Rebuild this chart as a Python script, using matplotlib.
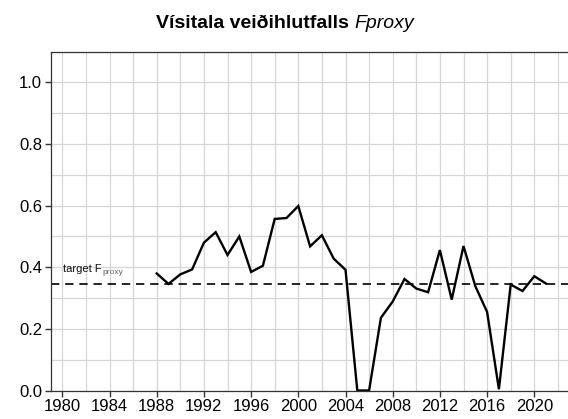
import matplotlib
matplotlib.use("Agg")
import matplotlib.pyplot as plt
from matplotlib.ticker import MultipleLocator
from matplotlib.transforms import offset_copy

plt.rcParams['font.family'] = ['Liberation Sans', 'DejaVu Sans']

years = list(range(1988, 2022))
fproxy = [0.380, 0.346, 0.377, 0.393, 0.480, 0.514, 0.440, 0.500, 0.385, 0.405,
          0.557, 0.560, 0.599, 0.468, 0.504, 0.428, 0.392, 0.0, 0.0, 0.236,
          0.289, 0.362, 0.331, 0.319, 0.456, 0.295, 0.469, 0.339, 0.255, 0.004,
          0.344, 0.323, 0.371, 0.347]
target = 0.345
x_ticks = list(range(1980, 2021, 4))
y_ticks = [0.0, 0.2, 0.4, 0.6, 0.8, 1.0]

W, H = 568, 419
fig = plt.figure(figsize=(W / 100, H / 100), dpi=100)
ax = fig.add_axes([50.5 / W, (H - 390.5) / H, 531 / W, (390.5 - 51.7) / H])

ax.set_xlim(1979, 2024)
ax.set_ylim(0, 1.1)
ax.set_xticks(x_ticks)
ax.set_yticks(y_ticks)
ax.set_yticklabels([f"{v:.1f}" for v in y_ticks])
ax.xaxis.set_minor_locator(MultipleLocator(2))
ax.yaxis.set_minor_locator(MultipleLocator(0.1))
ax.grid(True, which='both', color='#d6d6d6', linewidth=0.9)
ax.set_axisbelow(True)

for side in ['left', 'bottom', 'top']:
    ax.spines[side].set_color('#333333')
    ax.spines[side].set_linewidth(0.9)
ax.spines['right'].set_visible(False)

ax.tick_params(which='major', length=4, width=1.0, color='#333333',
               labelsize=12, labelcolor='black', pad=2)
ax.tick_params(which='minor', length=0)

ax.plot(years, fproxy, color='black', linewidth=1.7, solid_joinstyle='miter')
ax.axhline(target, color='black', linewidth=1.2, linestyle=(0, (5, 3.5)))

renderer = fig.canvas.get_renderer()
# target label
t1 = ax.text(1980.05, target + 0.041, 'target F', fontsize=8, color='#111111',
             ha='left', va='baseline')
w1 = t1.get_window_extent(renderer).width
ax.text(1980.05, target + 0.041, 'proxy', fontsize=6, color='#666666',
        ha='left', va='baseline',
        transform=offset_copy(ax.transData, fig=fig, x=w1 + 0.5, y=-2.5,
                              units='dots'))

# title: bold part + italic part
s1 = 'Vísitala veiðihlutfalls '
s2 = 'Fproxy'
tmp1 = fig.text(0, 0, s1, fontsize=14, fontweight='bold')
tmp2 = fig.text(0, 0, s2, fontsize=14, fontstyle='italic')
wa = tmp1.get_window_extent(renderer).width
wb = tmp2.get_window_extent(renderer).width
tmp1.remove()
tmp2.remove()
x0 = 285 - (wa + wb) / 2
yb = H - 27.5
fig.text(x0 / W, yb / H, s1, fontsize=14, fontweight='bold',
         ha='left', va='baseline')
fig.text((x0 + wa) / W, yb / H, s2, fontsize=14, fontstyle='italic',
         ha='left', va='baseline')

fig.savefig('out.png', dpi=100)
